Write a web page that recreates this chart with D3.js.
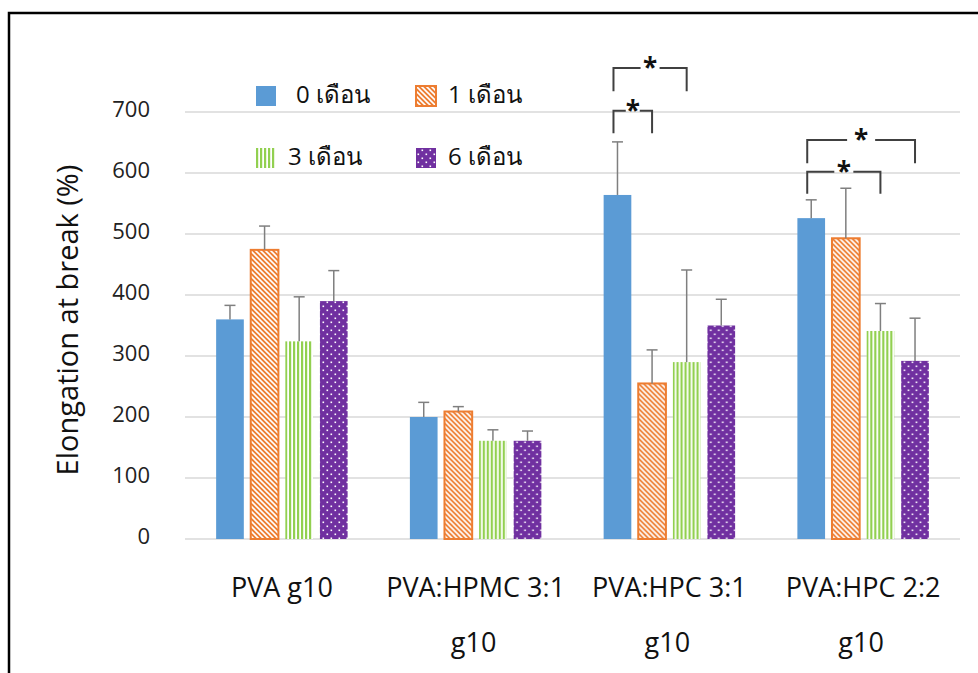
<!DOCTYPE html>
<html>
<head>
<meta charset="utf-8">
<script src="https://cdn.jsdelivr.net/npm/d3@7"></script>
<style>
  html, body { margin: 0; padding: 0; background: #fff; overflow: hidden; }
  svg { display: block; font-family: "Open Sans", "Noto Sans", "DejaVu Sans", sans-serif; }
</style>
</head>
<body>
<svg id="chart" width="978" height="673"></svg>
<script>
// ---- data ----
const categories = ["PVA g10", "PVA:HPMC 3:1\ng10", "PVA:HPC 3:1\ng10", "PVA:HPC 2:2\ng10"];
const seriesNames = ["0 เดือน", "1 เดือน", "3 เดือน", "6 เดือน"];
const month0 = [360, 200, 564, 526];
const month1 = [474, 209, 255, 493];
const month3 = [324, 161, 290, 341];
const month6 = [390, 161, 350, 292];
const err0 = [23, 24, 87, 30];
const err1 = [39, 8, 55, 82];
const err3 = [73, 18, 151, 45];
const err6 = [50, 16, 43, 70];
const yTicks = [0, 100, 200, 300, 400, 500, 600, 700];
const yTitle = "Elongation at break (%)";
// significance brackets: category index, series from/to, top & leg-bottom values
const bracketCat = [2, 2, 3, 3];
const bracketFrom = [0, 0, 0, 0];
const bracketTo = [1, 2, 3, 2];
const bracketTop = [702, 772, 654, 602];
const bracketBottom = [665, 734, 616, 566];
const bracketLabel = ["*", "*", "*", "*"];

const values = [month0, month1, month3, month6];
const errors = [err0, err1, err3, err6];

// ---- setup ----
const svg = d3.select("#chart");
const fills = ["#5B9BD5", "url(#pOrange)", "url(#pGreen)", "url(#pPurple)"];
const strokes = ["none", "#ED7D31", "none", "none"];

const defs = svg.append("defs");
// orange diagonal hatch
const po = defs.append("pattern").attr("id", "pOrange").attr("patternUnits", "userSpaceOnUse")
  .attr("width", 5).attr("height", 5);
po.append("rect").attr("width", 5).attr("height", 5).attr("fill", "#ED7D31");
po.append("path").attr("d", "M0,0L5,5M-1,4L1,6M4,-1L6,1")
  .attr("stroke", "#fff").attr("stroke-width", 1.6);
// green vertical stripes
const pg = defs.append("pattern").attr("id", "pGreen").attr("patternUnits", "userSpaceOnUse")
  .attr("width", 4).attr("height", 4);
pg.append("rect").attr("width", 4).attr("height", 4).attr("fill", "#fff");
pg.append("rect").attr("width", 2.2).attr("height", 4).attr("fill", "#92D050");
// purple dots
const pp = defs.append("pattern").attr("id", "pPurple").attr("patternUnits", "userSpaceOnUse")
  .attr("width", 8).attr("height", 8);
pp.append("rect").attr("width", 8).attr("height", 8).attr("fill", "#7030A0");
pp.append("rect").attr("x", 1.5).attr("y", 1.5).attr("width", 1.6).attr("height", 1.6).attr("fill", "#fff");
pp.append("rect").attr("x", 5.5).attr("y", 5.5).attr("width", 1.6).attr("height", 1.6).attr("fill", "#fff");

// frame (cropped)
svg.append("rect").attr("x", 9).attr("y", 13).attr("width", 1000).attr("height", 700)
  .attr("fill", "none").attr("stroke", "#000").attr("stroke-width", 2.5);

const x0 = d3.scaleBand().domain(categories).range([185, 960]).paddingInner(0).paddingOuter(0);
const x1 = d3.scaleBand().domain(d3.range(seriesNames.length)).range([0, x0.bandwidth()])
  .paddingInner(0.2).paddingOuter(0.9);
const y = d3.scaleLinear().domain([0, 700]).range([539, 112]);

// gridlines
svg.append("g").selectAll("line").data(yTicks).join("line")
  .attr("x1", 185).attr("x2", 960)
  .attr("y1", d => y(d)).attr("y2", d => y(d))
  .attr("stroke", "#d9d9d9").attr("stroke-width", 1.5);

// y axis labels via d3 axis
const yAxis = svg.append("g").attr("transform", "translate(150,0)")
  .call(d3.axisLeft(y).tickValues(yTicks).tickSize(0).tickPadding(0));
yAxis.select(".domain").remove();
yAxis.selectAll("text").attr("font-size", 22).attr("fill", "#222")
  .attr("font-family", "'Open Sans', sans-serif").attr("text-anchor", "end")
  .attr("dy", "0.32em").attr("y", -3);

// y title
svg.append("text").attr("transform", "translate(78,320) rotate(-90)")
  .attr("text-anchor", "middle").attr("font-size", 29).attr("fill", "#111").text(yTitle);

// bars
const groups = svg.append("g").selectAll("g").data(categories).join("g")
  .attr("transform", d => `translate(${x0(d)},0)`);
groups.each(function(cat, ci) {
  const g = d3.select(this);
  seriesNames.forEach((s, si) => {
    const v = values[si][ci];
    const bx = x1(si), bw = x1.bandwidth();
    g.append("rect").attr("x", bx).attr("y", y(v)).attr("width", bw).attr("height", y(0) - y(v))
      .attr("fill", fills[si]).attr("stroke", strokes[si]).attr("stroke-width", 2);
  });
  seriesNames.forEach((s, si) => {
    const v = values[si][ci], e = errors[si][ci];
    const cx = x1(si) + x1.bandwidth() / 2;
    g.append("line").attr("x1", cx).attr("x2", cx).attr("y1", y(v)).attr("y2", y(v + e))
      .attr("stroke", "#7f7f7f").attr("stroke-width", 1.5);
    g.append("line").attr("x1", cx - 5.5).attr("x2", cx + 5.5).attr("y1", y(v + e)).attr("y2", y(v + e))
      .attr("stroke", "#7f7f7f").attr("stroke-width", 1.5);
  });
});

// category labels
const catG = svg.append("g");
categories.forEach(c => {
  const lines = c.split("\n");
  const t = catG.append("text").attr("x", x0(c) + x0.bandwidth() / 2).attr("y", 597)
    .attr("text-anchor", "middle").attr("font-size", 27).attr("fill", "#111");
  lines.forEach((ln, i) => {
    t.append("tspan").attr("x", x0(c) + x0.bandwidth() / 2 - (i > 0 ? 2 : 0)).attr("y", 597 + i * 55).text(ln);
  });
});

// significance brackets
const bG = svg.append("g");
bracketCat.forEach((ci, i) => {
  const ox = x0(categories[ci]);
  const xa = ox + x1(bracketFrom[i]) + x1.bandwidth() / 2 - 4;
  const xb = ox + x1(bracketTo[i]) + x1.bandwidth() / 2;
  const yt = y(bracketTop[i]), yb = y(bracketBottom[i]);
  const mid = (xa + xb) / 2, gap = Math.max(7, (xb - xa) * 0.13);
  bG.append("path")
    .attr("d", `M${xa},${yb}V${yt}H${mid - gap}M${mid + gap},${yt}H${xb}V${yb}`)
    .attr("fill", "none").attr("stroke", "#404040").attr("stroke-width", 2);
  bG.append("text").attr("x", mid).attr("y", yt + 9).attr("text-anchor", "middle")
    .attr("font-size", 26).attr("font-weight", "bold").attr("fill", "#111").text(bracketLabel[i]);
});

// legend
const legX = [256, 416], legY = [96, 158];
const leg = svg.append("g");
seriesNames.forEach((s, i) => {
  const lx = legX[i % 2], ly = legY[Math.floor(i / 2)];
  leg.append("rect").attr("x", lx).attr("y", ly - 10).attr("width", 20).attr("height", 20)
    .attr("fill", fills[i]).attr("stroke", strokes[i]).attr("stroke-width", 2);
  leg.append("text").attr("x", lx + 32 + (i === 0 ? 8 : 0)).attr("y", ly + 7)
    .attr("font-size", 24).attr("fill", "#111").text(s);
});
</script>
</body>
</html>
